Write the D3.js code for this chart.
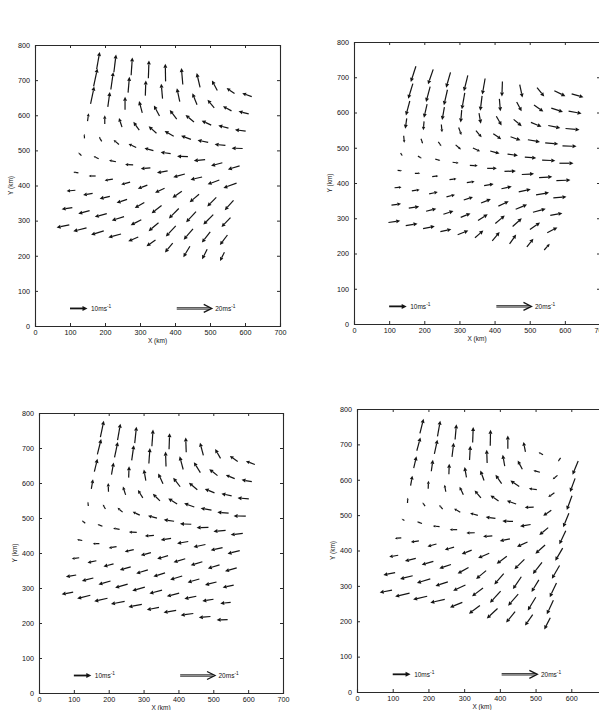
<!DOCTYPE html>
<html>
<head>
<meta charset="utf-8">
<script src="https://cdn.jsdelivr.net/npm/d3@7"></script>
<style>
  body { margin: 0; background: #fff; }
  text { font-family: "Liberation Sans", Arial, sans-serif; fill: #111; }
</style>
</head>
<body>
<svg id="chart" width="599" height="710"></svg>
<script>
// axis ticks (km)
const xTicks = [0, 100, 200, 300, 400, 500, 600, 700];
const yTicks = [0, 100, 200, 300, 400, 500, 600, 700, 800];

// analysis grid: 10 x 10 points, 50 km apart, turned 10 degrees
const gridOriginKm = [98, 288];   // bottom-left grid point
const gridStepKm = 50;
const gridTurnDeg = 10;
const kmPerMs = 5;                // arrow length per m/s

// reference arrows
const refSpeeds = [10, 20];
const refStartKm = [[100, 50], [405, 50]];

// wind speed (m/s) and direction (deg, towards, counter-clockwise from east)
// rows: top of grid to bottom, columns: left to right
const panelASpeed = [
  [10, 10.2, 10.2, 10.2, 10, 9.4, 8.4, 6.5, 5.5, 5.8],
  [10.5, 10, 9, 8.6, 8.6, 7.9, 7, 6, 5.5, 6],
  [10, 8.5, 7.5, 7, 6.8, 6.5, 6.3, 6, 6, 6.2],
  [4.5, 5, 5.5, 5.8, 6, 6, 6, 6.2, 6.2, 6.3],
  [2.5, 3, 4, 4.8, 5.3, 5.8, 6.2, 6.5, 6.7, 7],
  [2.5, 3.2, 4, 4.6, 5.5, 6.2, 6.9, 6.8, 7.1, 8],
  [3, 4, 4.8, 5.3, 5.8, 6, 6.5, 7, 7.3, 7.5],
  [5, 5.5, 6, 6.3, 6.3, 7.2, 8, 8.3, 8, 7.4],
  [6.2, 6.7, 7.1, 7.3, 6.8, 7.4, 8.3, 8.1, 7.7, 7.2],
  [7.4, 7.8, 7.6, 7.5, 6.2, 6.2, 6.9, 7.3, 6.4, 5.5]
];
const panelADir = [
  [80, 83, 86, 88, 91, 95, 103, 118, 145, 160],
  [78, 82, 85, 88, 95, 102, 112, 130, 152, 166],
  [78, 82, 90, 105, 118, 128, 140, 155, 165, 172],
  [82, 90, 108, 125, 138, 150, 160, 168, 174, 178],
  [93, 120, 140, 155, 165, 172, 178, 185, 195, 197],
  [135, 155, 168, 178, 185, 190, 196, 193, 200, 200],
  [170, 180, 190, 195, 200, 205, 215, 220, 225, 228],
  [185, 190, 193, 198, 210, 218, 225, 227, 225, 226],
  [189, 195, 195, 197, 207, 220, 227, 229, 232, 233],
  [192, 194, 197, 195, 203, 214, 230, 239, 243, 243]
];

const panelBSpeed = [
  [9.4, 9, 9, 9.2, 9.2, 8.5, 7.5, 6.5, 7, 7],
  [9, 9, 9, 9.5, 8.5, 7, 6, 6.5, 7, 7.5],
  [8.5, 8, 7.5, 7, 6, 6, 6, 6.5, 7, 8],
  [6, 5, 4.5, 4.5, 5, 5.5, 6, 7, 7.5, 8],
  [4, 3, 3, 4, 4.5, 5.5, 6, 6.5, 7.5, 8],
  [2, 2.5, 3, 3.5, 4.5, 5.5, 6.5, 7, 7.5, 8],
  [2.5, 3, 3.5, 4, 4.5, 5.5, 6, 7, 7.5, 7.5],
  [4, 4.5, 5, 5, 5.5, 6, 6.5, 7, 7.5, 7],
  [5.5, 6, 6, 6, 6, 6.5, 7, 7, 7, 6.5],
  [6.8, 6.8, 6.8, 6.4, 6.5, 6.3, 6.5, 6.5, 6, 4.7]
];
const panelBDir = [
  [252, 251, 254, 256, 260, 268, 282, 309, 334, 344],
  [253, 255, 257, 260, 263, 275, 298, 325, 342, 350],
  [255, 257, 260, 265, 280, 300, 320, 338, 348, 355],
  [262, 265, 275, 290, 310, 325, 340, 350, 355, 358],
  [275, 290, 305, 320, 335, 345, 352, 356, 358, 0],
  [300, 330, 345, 352, 357, 0, 2, 3, 3, 2],
  [355, 2, 5, 7, 8, 10, 12, 12, 10, 5],
  [5, 8, 12, 15, 18, 22, 25, 22, 15, 10],
  [8, 9, 14, 18, 22, 32, 40, 42, 35, 27],
  [8, 9, 11, 12, 21, 41, 50, 55, 52, 48]
];

const panelCSpeed = [
  [9.5, 9.5, 9.5, 9.5, 9.2, 8.5, 7.5, 6.2, 5.5, 5.5],
  [9, 9, 8.8, 8.8, 8.5, 7.8, 7, 6, 5.5, 6],
  [7.5, 7, 6.5, 6.5, 6.5, 6.5, 6.3, 6, 6, 6.5],
  [5.5, 5, 5, 5.3, 5.8, 6, 6.2, 6.3, 6.5, 7],
  [2.5, 3, 3.8, 4.5, 5.3, 6, 6.5, 6.8, 7, 7],
  [2.5, 3, 3.8, 4.5, 5.2, 6, 6.5, 7, 7, 7.2],
  [3, 3.8, 4.6, 5.3, 6, 6.5, 7, 7, 7, 7],
  [4.3, 5.2, 6, 6.5, 7, 7, 7.2, 7, 6.8, 6.5],
  [6, 6.8, 7.2, 7.5, 7.5, 7.5, 7.3, 7, 6.5, 6],
  [6.7, 7.8, 7.8, 8, 7.8, 7.1, 7.3, 7.3, 6.7, 6.3]
];
const panelCDir = [
  [78, 80, 84, 86, 88, 92, 105, 120, 145, 160],
  [76, 78, 82, 86, 92, 105, 122, 142, 158, 170],
  [76, 80, 88, 100, 115, 128, 140, 158, 168, 175],
  [80, 92, 108, 122, 135, 148, 160, 170, 176, 179],
  [95, 120, 140, 155, 165, 172, 178, 182, 185, 187],
  [140, 158, 170, 178, 184, 188, 190, 192, 193, 194],
  [170, 182, 190, 193, 195, 196, 197, 197, 197, 196],
  [187, 192, 195, 196, 197, 197, 197, 196, 194, 192],
  [190, 194, 196, 196, 196, 195, 194, 192, 189, 186],
  [190, 194, 193, 191, 191, 191, 189, 188, 185, 182]
];

const panelDSpeed = [
  [8.5, 9, 8.6, 8.8, 9, 7.5, 5.7, 2.8, 2.5, 8.4],
  [7.8, 8.2, 8, 8, 7.5, 6.5, 5.5, 3.8, 3.5, 8.2],
  [6.9, 6.5, 6, 6, 6, 6, 6, 4.5, 4.2, 8.5],
  [5.7, 4.5, 4, 5, 5.5, 5.5, 5.5, 5, 5.5, 8.5],
  [3, 2.5, 3, 4, 4.5, 5.5, 6, 6, 6.5, 8.5],
  [1.8, 3, 3.8, 4.2, 4.7, 5.2, 5.8, 6.5, 7.3, 8.3],
  [3.6, 4.5, 5.2, 5.4, 6, 6.8, 7.1, 7.9, 8.3, 8.6],
  [5.1, 6.3, 6.8, 6.9, 7, 7.3, 8, 8.4, 8, 8.9],
  [6.7, 7.3, 7.8, 7.3, 7.6, 7.7, 8.9, 8.6, 8.7, 8.7],
  [7, 8.3, 8.1, 8.3, 7.5, 7.7, 8.2, 8, 7.5, 7.4]
];
const panelDDir = [
  [76, 80, 85, 88, 89, 90, 101, 150, 235, 248],
  [75, 78, 83, 87, 92, 100, 118, 165, 220, 250],
  [77, 82, 88, 100, 110, 125, 145, 172, 215, 250],
  [80, 88, 100, 115, 130, 145, 160, 182, 215, 248],
  [87, 125, 130, 150, 165, 172, 178, 190, 220, 245],
  [150, 160, 175, 180, 182, 185, 192, 205, 222, 240],
  [185, 188, 195, 196, 202, 204, 217, 225, 232, 240],
  [190, 194, 196, 199, 209, 220, 229, 236, 239, 245],
  [191, 194, 197, 198, 205, 217, 228, 229, 239, 245],
  [191, 193, 193, 193, 202, 217, 223, 231, 235, 243]
];

const panels = [
  { speed: panelASpeed, dir: panelADir, left: 35,  top: 45,  width: 245, height: 281 },
  { speed: panelBSpeed, dir: panelBDir, left: 354, top: 42,  width: 246, height: 282 },
  { speed: panelCSpeed, dir: panelCDir, left: 39,  top: 413, width: 244, height: 280 },
  { speed: panelDSpeed, dir: panelDDir, left: 357, top: 409, width: 250, height: 283 }
];

const svg = d3.select("#chart");
const ink = "#141414";
const rad = gridTurnDeg * Math.PI / 180;

function gridPoint(r, j) {
  const k = 9 - r;
  return [
    gridOriginKm[0] + gridStepKm * (j * Math.cos(rad) + k * Math.sin(rad)),
    gridOriginKm[1] + gridStepKm * (-j * Math.sin(rad) + k * Math.cos(rad))
  ];
}

function drawArrow(g, x0, y0, x1, y1, w) {
  const dx = x1 - x0, dy = y1 - y0;
  const len = Math.hypot(dx, dy);
  if (len < 0.5) return;
  const ux = dx / len, uy = dy / len;
  const hl = Math.min(4, len * 0.38), hw = hl * 0.5;
  const bx = x1 - ux * hl, by = y1 - uy * hl;
  g.append("line")
    .attr("x1", x0).attr("y1", y0).attr("x2", bx).attr("y2", by)
    .attr("stroke", ink).attr("stroke-width", w);
  g.append("path")
    .attr("d", `M${x1},${y1}L${bx - uy * hw},${by + ux * hw}L${bx + uy * hw},${by - ux * hw}Z`)
    .attr("fill", ink);
}

panels.forEach(p => {
  const x = d3.scaleLinear().domain([0, 700]).range([p.left, p.left + p.width]);
  const y = d3.scaleLinear().domain([0, 800]).range([p.top + p.height, p.top]);
  const g = svg.append("g");

  // axes with inward ticks on all four sides
  g.append("g").attr("transform", `translate(0,${p.top + p.height})`)
    .call(d3.axisBottom(x).tickValues(xTicks).tickSize(-3).tickPadding(4));
  g.append("g").attr("transform", `translate(${p.left},0)`)
    .call(d3.axisLeft(y).tickValues(yTicks).tickSize(-3).tickPadding(5));
  g.append("g").attr("transform", `translate(0,${p.top})`)
    .call(d3.axisTop(x).tickValues(xTicks).tickSize(-3).tickFormat(""));
  g.append("g").attr("transform", `translate(${p.left + p.width},0)`)
    .call(d3.axisRight(y).tickValues(yTicks).tickSize(-3).tickFormat(""));
  g.selectAll(".domain").attr("stroke", "#2a2a2a").attr("stroke-width", 1.1);
  g.selectAll(".tick line").attr("stroke", "#2a2a2a");
  g.selectAll(".tick text").attr("font-size", 7.2).attr("fill", ink)
    .attr("font-family", "Liberation Sans, Arial, sans-serif");

  g.append("text")
    .attr("x", x(350)).attr("y", p.top + p.height + 17)
    .attr("text-anchor", "middle").attr("font-size", 6.5)
    .text("X (km)");
  g.append("text")
    .attr("transform", `translate(${p.left - 22},${y(400)}) rotate(-90)`)
    .attr("text-anchor", "middle").attr("font-size", 6.5)
    .text("Y (km)");

  // wind vectors
  const arrows = g.append("g");
  p.speed.forEach((row, r) => row.forEach((s, j) => {
    const [gx, gy] = gridPoint(r, j);
    const a = p.dir[r][j] * Math.PI / 180;
    const u = s * Math.cos(a), v = s * Math.sin(a);
    drawArrow(arrows, x(gx), y(gy), x(gx + u * kmPerMs), y(gy + v * kmPerMs), 1.2);
  }));

  // reference arrows
  refSpeeds.forEach((s, i) => {
    const [sx, sy] = refStartKm[i];
    const x0 = x(sx), y0 = y(sy), x1 = x(sx + s * kmPerMs);
    if (i === 0) {
      g.append("line").attr("x1", x0).attr("y1", y0).attr("x2", x1 - 4).attr("y2", y0)
        .attr("stroke", ink).attr("stroke-width", 1.8);
      g.append("path").attr("d", `M${x1},${y0}L${x1 - 5},${y0 - 2.5}L${x1 - 5},${y0 + 2.5}Z`).attr("fill", ink);
    } else {
      g.append("line").attr("x1", x0).attr("y1", y0 - 0.7).attr("x2", x1 - 2).attr("y2", y0 - 0.7)
        .attr("stroke", ink).attr("stroke-width", 0.9);
      g.append("line").attr("x1", x0).attr("y1", y0 + 0.7).attr("x2", x1 - 2).attr("y2", y0 + 0.7)
        .attr("stroke", ink).attr("stroke-width", 0.9);
      g.append("path").attr("d", `M${x1 - 8},${y0 - 4}L${x1},${y0}L${x1 - 8},${y0 + 4}`)
        .attr("fill", "none").attr("stroke", ink).attr("stroke-width", 1.3);
    }
    const t = g.append("text").attr("x", x1 + x(10) - x(0)).attr("y", y0 + 2.4)
      .attr("font-size", 6.5).text(`${s}ms`);
    t.append("tspan").attr("dy", -2.6).attr("font-size", 4.8).text("-1");
  });
});
</script>
</body>
</html>
